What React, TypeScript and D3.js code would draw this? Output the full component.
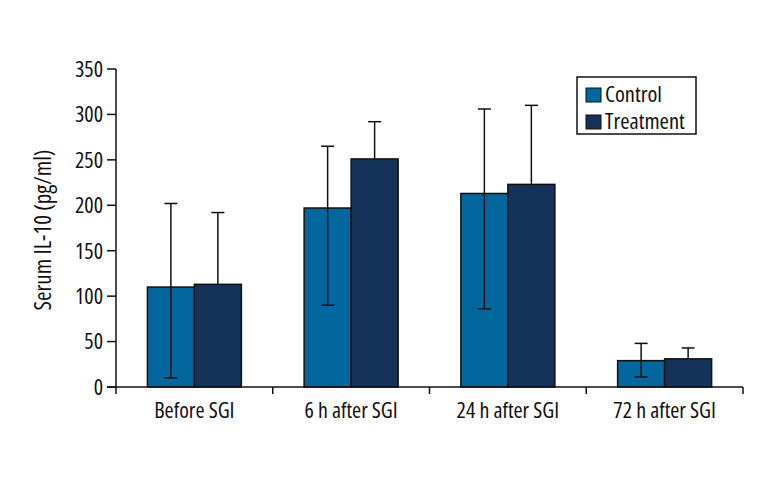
import React from "react";
import * as d3 from "d3";

const categories = ["Before SGI", "6 h after SGI", "24 h after SGI", "72 h after SGI"];
const seriesNames = ["Control", "Treatment"];
const controlMean = [110, 197, 213, 29];
const controlLow = [10, 90, 86, 11];
const controlHigh = [202, 265, 306, 48];
const treatmentMean = [113, 251, 223, 31];
const treatmentHigh = [192, 292, 310, 43];
const yTicks = [0, 50, 100, 150, 200, 250, 300, 350];
const colors = ["#01679c", "#14325a"];

const W = 768;
const H = 480;
const left = 116;
const right = 743;
const top = 69;
const bottom = 387;
const font = "'Open Sans', sans-serif";

export default function App() {
  const x = d3.scaleBand<string>().domain(categories).range([left, right]).paddingInner(0).paddingOuter(0);
  const y = d3.scaleLinear().domain([0, 350]).range([bottom, top]);
  const barW = 47;
  const capW = 13;
  const boundaries = [...categories.map((c) => x(c)!), right];
  const ts = { fontStretch: "75%" } as React.CSSProperties;

  return (
    <svg width={W} height={H} style={{ position: "absolute", left: 0, top: 0, background: "#fff" }} fontFamily={font}>
      <rect x={0} y={0} width={W} height={H} fill="#fff" />
      {categories.map((c, i) => {
        const cx = x(c)! + x.bandwidth() / 2;
        const vals = [controlMean[i], treatmentMean[i]];
        return (
          <g key={c}>
            {vals.map((v, s) => (
              <rect
                key={s}
                x={cx - barW + s * barW}
                y={y(v)}
                width={barW}
                height={y(0) - y(v)}
                fill={colors[s]}
                stroke="#111"
                strokeWidth={1.5}
              />
            ))}
            <g stroke="#111" strokeWidth={1.5}>
              <line x1={cx - barW / 2} x2={cx - barW / 2} y1={y(controlLow[i])} y2={y(controlHigh[i])} />
              <line x1={cx - barW / 2 - capW / 2} x2={cx - barW / 2 + capW / 2} y1={y(controlLow[i])} y2={y(controlLow[i])} />
              <line x1={cx - barW / 2 - capW / 2} x2={cx - barW / 2 + capW / 2} y1={y(controlHigh[i])} y2={y(controlHigh[i])} />
              <line x1={cx + barW / 2} x2={cx + barW / 2} y1={y(treatmentMean[i])} y2={y(treatmentHigh[i])} />
              <line x1={cx + barW / 2 - capW / 2} x2={cx + barW / 2 + capW / 2} y1={y(treatmentHigh[i])} y2={y(treatmentHigh[i])} />
            </g>
          </g>
        );
      })}
      <line x1={left} x2={left} y1={top} y2={bottom + 7} stroke="#111" strokeWidth={1.5} />
      {yTicks.map((t) => (
        <g key={t}>
          <line x1={left - 9} x2={left} y1={y(t)} y2={y(t)} stroke="#111" strokeWidth={1.5} />
          <text x={left - 13} y={y(t)} dy="0.36em" textAnchor="end" fontSize={22} fill="#111" style={ts}>
            {t}
          </text>
        </g>
      ))}
      <line x1={left - 9} x2={right} y1={bottom} y2={bottom} stroke="#111" strokeWidth={1.5} />
      {boundaries.slice(1).map((b, i) => (
        <line key={i} x1={b} x2={b} y1={bottom} y2={bottom + 7} stroke="#111" strokeWidth={1.5} />
      ))}
      {categories.map((c) => (
        <text key={c} x={x(c)! + x.bandwidth() / 2} y={418} textAnchor="middle" fontSize={22} fill="#111" style={ts}>
          {c}
        </text>
      ))}
      <text
        transform={`translate(51, 230) rotate(-90)`}
        textAnchor="middle"
        fontSize={23}
        fill="#111"
        style={ts}
      >
        Serum IL-10 (pg/ml)
      </text>
      <rect x={577} y={77} width={119} height={57} fill="#fff" stroke="#111" strokeWidth={1.5} />
      {seriesNames.map((n, i) => (
        <g key={n}>
          <rect x={586} y={88 + i * 27} width={15} height={14} fill={colors[i]} stroke="#111" strokeWidth={1} />
          <text x={605} y={102 + i * 26.5} fontSize={22.5} fill="#111" style={ts}>
            {n}
          </text>
        </g>
      ))}
    </svg>
  );
}
